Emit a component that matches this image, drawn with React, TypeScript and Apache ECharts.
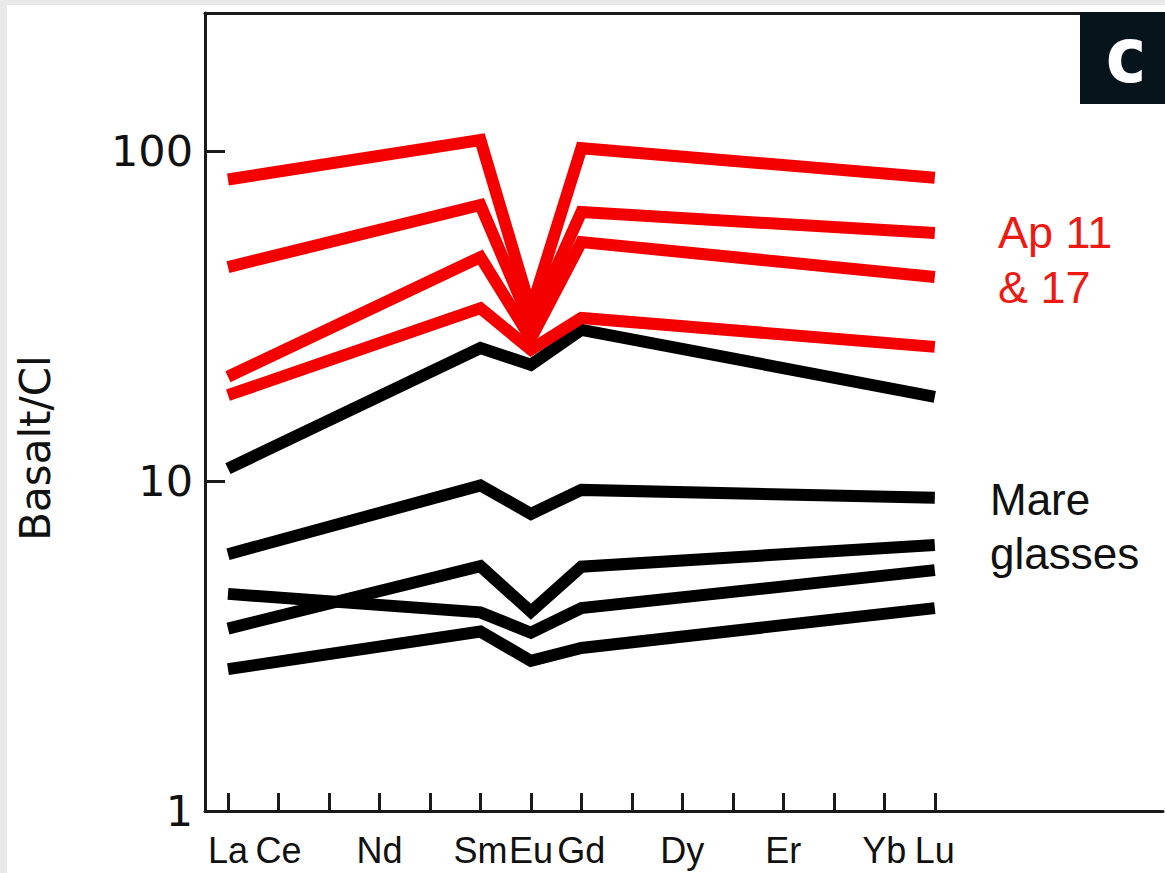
import React, { useEffect, useRef } from 'react';
import * as echarts from 'echarts';

// Rare earth elements along the x axis (one tick each)
const REE = ['La', 'Ce', 'Pr', 'Nd', 'Pm', 'Sm', 'Eu', 'Gd', 'Tb', 'Dy', 'Ho', 'Er', 'Tm', 'Yb', 'Lu'];
// Elements that carry a label
const LABELLED = ['La', 'Ce', 'Nd', 'Sm', 'Eu', 'Gd', 'Dy', 'Er', 'Yb', 'Lu'];
// Elements at which each pattern has a vertex
const PLOTTED = ['La', 'Sm', 'Eu', 'Gd', 'Lu'];

// Apollo 11 & 17 basalts (red), values at La, Sm, Eu, Gd, Lu
const ap1 = [82, 108, 33, 102, 83];
const ap2 = [44.5, 68.6, 30, 65.3, 56.4];
const ap3 = [20.7, 47.7, 27, 53, 41.5];
const ap4 = [18.2, 33.4, 25, 31.2, 25.5];

// Mare glasses (black), values at La, Sm, Eu, Gd, Lu
const mare1 = [10.9, 25.3, 22.5, 28.7, 18.0];
const mare2 = [6.0, 9.7, 7.95, 9.4, 8.9];
const mare3 = [4.55, 4.0, 3.47, 4.12, 5.37];
const mare4 = [3.57, 5.52, 4.02, 5.5, 6.4];
const mare5 = [2.69, 3.5, 2.85, 3.12, 4.12];

const RED_SERIES = [ap1, ap2, ap3, ap4];
const BLACK_SERIES = [mare1, mare2, mare3, mare4, mare5];

const toPoints = (vals: number[]) => PLOTTED.map((el, i) => [REE.indexOf(el), vals[i]]);

const AXIS_COLOR = '#1a1a1a';
const X_MIN = -0.455;
const X_MAX = 18.52;

const lineSeries = (name: string, vals: number[], color: string, z: number) => ({
  name,
  type: 'line',
  data: toPoints(vals),
  symbol: 'none',
  silent: true,
  z,
  lineStyle: { color, width: 12, cap: 'butt', join: 'miter', miterLimit: 10 },
  emphasis: { disabled: true },
});

export default function App() {
  const ref = useRef<HTMLDivElement>(null);

  useEffect(() => {
    if (!ref.current) return;
    const chart = echarts.init(ref.current, null, { renderer: 'svg' });
    const isPow10 = (v: number) => Math.abs(Math.log10(v) - Math.round(Math.log10(v))) < 1e-6;
    const option: any = {
      animation: false,
      backgroundColor: '#ffffff',
      grid: {
        left: 205,
        top: 13,
        width: 958,
        height: 798,
        show: false,
      },
      xAxis: [
        {
          type: 'value',
          min: X_MIN,
          max: X_MAX,
          axisLine: { show: true, onZero: false, lineStyle: { color: AXIS_COLOR, width: 3 } },
          axisTick: {
            show: true,
            inside: true,
            length: 18,
            lineStyle: { color: AXIS_COLOR, width: 3 },
            customValues: REE.map((_, i) => i),
          },
          axisLabel: {
            customValues: LABELLED.map((e) => REE.indexOf(e)),
            formatter: (v: number) => REE[Math.round(v)] ?? '',
            margin: 21,
            color: '#111111',
            fontSize: 36,
            fontFamily: '"Liberation Sans", Arial, sans-serif',
          },
          splitLine: { show: false },
        },
        {
          type: 'value',
          position: 'top',
          min: X_MIN,
          max: X_MAX,
          axisLine: { show: true, onZero: false, lineStyle: { color: AXIS_COLOR, width: 3 } },
          axisTick: { show: false },
          axisLabel: { show: false },
          splitLine: { show: false },
        },
      ],
      yAxis: {
        type: 'log',
        logBase: 10,
        min: 1,
        max: 262,
        axisLine: { show: true, onZero: false, lineStyle: { color: AXIS_COLOR, width: 3 } },
        axisTick: { show: true, inside: true, length: 20, lineStyle: { color: AXIS_COLOR, width: 3 } },
        minorTick: { show: false },
        axisLabel: {
          formatter: (v: number) => (isPow10(v) ? String(Math.round(v)) : ''),
          showMaxLabel: false,
          margin: 12,
          color: '#111111',
          fontSize: 43,
          fontFamily: '"DejaVu Sans", Verdana, sans-serif',
        },
        splitLine: { show: false },
      },
      graphic: [
        { type: 'rect', z: 100, shape: { x: 0, y: 0, width: 7, height: 873 }, style: { fill: '#e9e9e9' } },
        { type: 'rect', z: 100, shape: { x: 0, y: 0, width: 1165, height: 5 }, style: { fill: '#e9e9e9' } },
        {
          type: 'text',
          x: 35,
          y: 448,
          rotation: Math.PI / 2,
          style: {
            text: 'Basalt/Cl',
            fontSize: 42,
            fontFamily: '"DejaVu Sans", Verdana, sans-serif',
            fill: '#111111',
            align: 'center',
            verticalAlign: 'middle',
          },
        },
        { type: 'rect', z: 50, shape: { x: 1080, y: 12, width: 90, height: 92 }, style: { fill: '#07141b' } },
        {
          type: 'text',
          z: 51,
          x: 1126,
          y: 56,
          scaleX: 0.9,
          style: {
            text: 'c',
            fontSize: 76,
            fontWeight: 'bold',
            fontFamily: '"DejaVu Sans", sans-serif',
            fill: '#ffffff',
            align: 'center',
            verticalAlign: 'middle',
          },
        },
        {
          type: 'text',
          x: 998,
          y: 232,
          style: { text: 'Ap 11', fontSize: 45, fontFamily: '"Liberation Sans", Arial, sans-serif', fill: '#ee1a12', align: 'left', verticalAlign: 'middle' },
        },
        {
          type: 'text',
          x: 998,
          y: 287,
          style: { text: '& 17', fontSize: 45, fontFamily: '"Liberation Sans", Arial, sans-serif', fill: '#ee1a12', align: 'left', verticalAlign: 'middle' },
        },
        {
          type: 'text',
          x: 990,
          y: 499,
          style: { text: 'Mare', fontSize: 44, fontFamily: '"Liberation Sans", Arial, sans-serif', fill: '#111111', align: 'left', verticalAlign: 'middle' },
        },
        {
          type: 'text',
          x: 990,
          y: 553,
          style: { text: 'glasses', fontSize: 44, fontFamily: '"Liberation Sans", Arial, sans-serif', fill: '#111111', align: 'left', verticalAlign: 'middle' },
        },
      ],
      series: [
        ...BLACK_SERIES.map((vals, i) => lineSeries(`Mare glass ${i + 1}`, vals, '#000000', 2)),
        ...RED_SERIES.map((vals, i) => lineSeries(`Ap 11 & 17 basalt ${i + 1}`, vals, '#f50000', 3)),
      ],
    };
    chart.setOption(option);
    return () => chart.dispose();
  }, []);

  return (
    <div
      ref={ref}
      style={{ position: 'fixed', left: 0, top: 0, width: 1165, height: 873, background: '#ffffff' }}
    />
  );
}
